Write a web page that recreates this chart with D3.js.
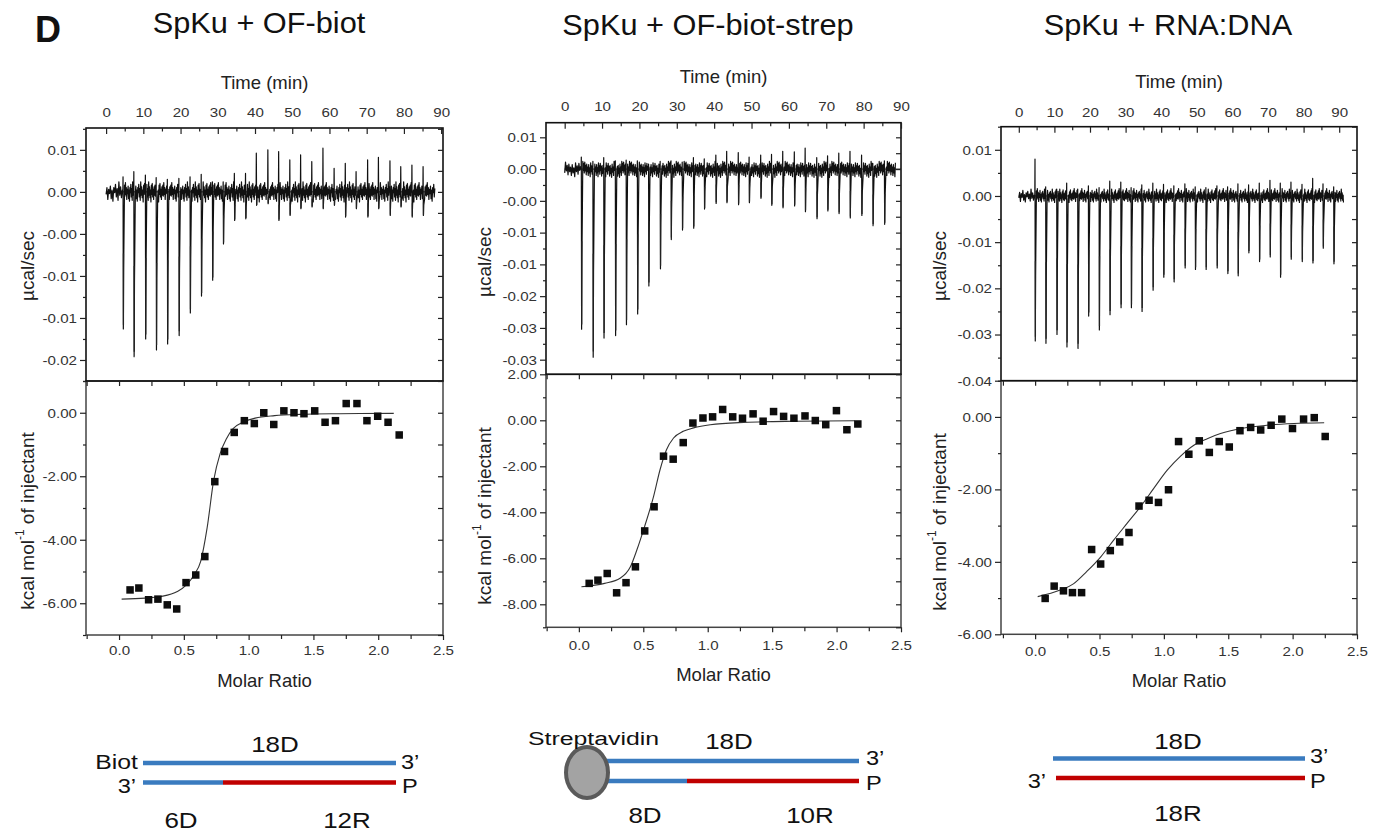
<!DOCTYPE html>
<html><head><meta charset="utf-8">
<script src="https://cdn.jsdelivr.net/npm/d3@7"></script>
<style>body{margin:0;background:#fff;} text{font-family:"Liberation Sans",Arial,Helvetica,sans-serif;}</style>
</head><body><script>
// ---------------- DATA ----------------
const titles = ["SpKu + OF-biot", "SpKu + OF-biot-strep", "SpKu + RNA:DNA"];
const timeTicks = [0,10,20,30,40,50,60,70,80,90];
const molarTicks = [0,0.5,1,1.5,2,2.5];
const molarTickLabels = ["0.0","0.5","1.0","1.5","2.0","2.5"];

const rawTicks1 = [0.005,0,-0.005,-0.01,-0.015,-0.02];
const rawLabels1 = ["0.01","0.00","-0.00","-0.01","-0.01","-0.02"];
const rawTicks2 = [0.005,0,-0.005,-0.01,-0.015,-0.02,-0.025,-0.03];
const rawLabels2 = ["0.01","0.00","-0.00","-0.01","-0.01","-0.02","-0.03","-0.03"];
const rawTicks3 = [0.01,0,-0.01,-0.02,-0.03,-0.04];
const rawLabels3 = ["0.01","0.00","-0.01","-0.02","-0.03","-0.04"];

const heatTicks1 = [0,-2,-4,-6];
const heatLabels1 = ["0.00","-2.00","-4.00","-6.00"];
const heatTicks2 = [2,0,-2,-4,-6,-8];
const heatLabels2 = ["2.00","0.00","-2.00","-4.00","-6.00","-8.00"];
const heatTicks3 = [0,-2,-4,-6];
const heatLabels3 = ["0.00","-2.00","-4.00","-6.00"];

// raw thermograms: injection time (min), spike minimum and maximum (ucal/sec)
const injTime1 = [4.5,7.4,10.5,13.4,16.4,19.5,22.5,25.5,28.5,31.4,34.4,37.4,40.3,43.4,46.3,49.3,52.2,55.2,58.2,61.2,64.2,67.1,70.2,73.1,76.2,79.1,82.1,85.1];
const injMin1 = [-0.0163,-0.0196,-0.0175,-0.0188,-0.0181,-0.0171,-0.0144,-0.0124,-0.0105,-0.0062,-0.0034,-0.0032,-0.0016,-0.0014,-0.0034,-0.0028,-0.0020,-0.0018,-0.0020,-0.0016,-0.0030,-0.0020,-0.0030,-0.0020,-0.0028,-0.0018,-0.0030,-0.0028];
const injMax1 = [0.0018,0.0024,0.0020,0.0017,0.0015,0.0016,0.0018,0.0021,0.0012,0.0012,0.0022,0.0022,0.0046,0.0050,0.0048,0.0038,0.0044,0.0036,0.0052,0.0028,0.0034,0.0024,0.0038,0.0041,0.0037,0.0030,0.0032,0.0030];
// baseline noise read as a recurring pattern (ucal/sec)
const noise1 = [0.0008,-0.0005,0.0011,-0.0003,0.0005,-0.0009,0.0003,-0.0002,0.0007,-0.0008,0.0002,-0.0011,0.0005,-0.0001,0.0009,-0.0006,0.0004,-0.0010,0.0012,-0.0004,0.0006,-0.0007,0.0002,-0.0012,0.0008,-0.0003,0.0010,-0.0006,0.0003,-0.0009,0.0006,-0.0004];
const traceSpan1 = [0, 88.3];

const injTime2 = [4.4,7.5,10.4,13.5,16.4,19.4,22.4,25.5,28.4,31.4,34.4,37.3,40.4,43.3,46.4,49.3,52.4,55.3,58.3,61.4,64.3,67.4,70.3,73.3,76.3,79.4,82.4,85.5];
const injMin2 = [-0.0252,-0.0296,-0.0266,-0.0262,-0.0245,-0.0228,-0.0184,-0.0157,-0.0111,-0.0096,-0.0093,-0.0063,-0.0054,-0.0053,-0.0056,-0.0053,-0.0046,-0.0057,-0.0061,-0.0058,-0.0067,-0.0078,-0.0066,-0.0070,-0.0077,-0.0073,-0.0089,-0.0087];
const injMax2 = [0.0019,0.0012,0.0018,0.0013,0.0014,0.0013,0.0008,0.0012,0.0013,0.0011,0.0018,0.0016,0.0022,0.0028,0.0026,0.0019,0.0022,0.0023,0.0028,0.0027,0.0033,0.0018,0.0021,0.0025,0.0028,0.0022,0.0009,0.0013];
const noise2 = [0.0012,-0.0002,0.0009,-0.0006,0.0011,-0.0003,0.0006,-0.0009,0.0008,-0.0004,0.0003,-0.0010,0.0007,-0.0006,0.0002,-0.0012,0.0010,-0.0004,0.0005,-0.0008,0.0009,-0.0002,0.0004,-0.0011,0.0006,-0.0007,0.0001,-0.0013,0.0008,-0.0005,0.0003,-0.0010];
const traceSpan2 = [0, 88.5];

const injTime3 = [4.5,7.5,10.6,13.4,16.5,19.5,22.5,25.5,28.6,31.5,34.5,37.6,40.6,43.5,46.6,49.5,52.5,55.6,58.6,61.5,64.5,67.5,70.5,73.4,76.4,79.5,82.5,85.4,88.4];
const injMin3 = [-0.0314,-0.0319,-0.0300,-0.0327,-0.0330,-0.0260,-0.0290,-0.0257,-0.0242,-0.0242,-0.0250,-0.0204,-0.0176,-0.0186,-0.0156,-0.0159,-0.0159,-0.0156,-0.0168,-0.0173,-0.0123,-0.0142,-0.0132,-0.0176,-0.0137,-0.0142,-0.0145,-0.0113,-0.0147];
const injMax3 = [0.0080,0.0020,0.0015,0.0028,0.0015,0.0022,0.0018,0.0032,0.0030,0.0018,0.0024,0.0028,0.0025,0.0022,0.0026,0.0020,0.0018,0.0022,0.0020,0.0026,0.0024,0.0028,0.0034,0.0028,0.0030,0.0025,0.0038,0.0026,0.0020];
const noise3 = [0.0011,-0.0007,0.0016,-0.0004,0.0008,-0.0012,0.0005,-0.0003,0.0012,-0.0009,0.0003,-0.0013,0.0007,-0.0002,0.0010,-0.0006,0.0004,-0.0011,0.0015,-0.0005,0.0007,-0.0009,0.0002,-0.0014,0.0009,-0.0004,0.0013,-0.0008,0.0004,-0.0010,0.0006,-0.0005];
const traceSpan3 = [0, 91.2];

// integrated heats
const molar1 = [0.085,0.153,0.228,0.30,0.372,0.445,0.517,0.592,0.662,0.739,0.814,0.889,0.967,1.044,1.117,1.194,1.272,1.35,1.427,1.51,1.59,1.67,1.753,1.836,1.913,1.996,2.076,2.162];
const heat1 = [-5.58,-5.52,-5.89,-5.87,-6.05,-6.18,-5.35,-5.11,-4.53,-2.17,-1.22,-0.62,-0.25,-0.34,0.0,-0.37,0.06,0.0,-0.03,0.06,-0.30,-0.25,0.29,0.29,-0.25,-0.11,-0.30,-0.70];
const fitX1 = [0.02,0.2,0.32,0.45,0.52,0.58,0.63,0.68,0.73,0.78,0.83,0.88,0.96,1.05,1.2,1.4,1.7,2.12];
const fitY1 = [-5.87,-5.84,-5.79,-5.63,-5.42,-5.1,-4.68,-3.62,-2.14,-1.29,-0.81,-0.5,-0.29,-0.17,-0.09,-0.05,-0.03,-0.02];

const molar2 = [0.08,0.148,0.22,0.293,0.366,0.439,0.511,0.584,0.657,0.732,0.81,0.885,0.963,1.038,1.116,1.194,1.27,1.352,1.43,1.511,1.589,1.669,1.755,1.835,1.916,1.999,2.08,2.165];
const heat2 = [-7.09,-6.95,-6.66,-7.50,-7.06,-6.37,-4.81,-3.76,-1.56,-1.69,-0.97,-0.12,0.10,0.15,0.47,0.15,0.09,0.28,-0.04,0.38,0.17,0.09,0.19,-0.01,-0.19,0.42,-0.41,-0.16];
const fitX2 = [0.02,0.2,0.32,0.4,0.45,0.51,0.58,0.63,0.68,0.735,0.81,0.89,1.02,1.28,1.68,2.14];
const fitY2 = [-7.24,-7.09,-6.87,-6.37,-5.64,-4.62,-3.31,-2.15,-1.28,-0.77,-0.48,-0.33,-0.19,-0.09,-0.04,-0.02];

const molar3 = [0.078,0.148,0.22,0.29,0.361,0.439,0.509,0.584,0.657,0.729,0.807,0.885,0.958,1.036,1.114,1.194,1.275,1.353,1.43,1.508,1.591,1.674,1.752,1.833,1.916,1.999,2.085,2.168,2.253];
const heat3 = [-5.01,-4.67,-4.80,-4.85,-4.85,-3.66,-4.06,-3.69,-3.45,-3.19,-2.46,-2.30,-2.36,-2.01,-0.68,-1.03,-0.66,-0.98,-0.68,-0.83,-0.38,-0.29,-0.36,-0.23,-0.06,-0.32,-0.06,-0.02,-0.54];
const fitX3 = [0.02,0.195,0.3,0.4,0.51,0.61,0.714,0.818,0.92,1.026,1.13,1.233,1.337,1.44,1.6,1.8,2.01,2.245];
const fitY3 = [-4.96,-4.78,-4.6,-4.27,-3.86,-3.40,-2.94,-2.48,-1.98,-1.47,-1.08,-0.78,-0.60,-0.46,-0.32,-0.23,-0.18,-0.16];

// diagram labels
const diagTop = ["18D","18D","18D"];
const diagSegLeft = ["6D","8D",""];
const diagSegRight = ["12R","10R",""];
const diagBelow = ["","","18R"];

// ---------------- LAYOUT ----------------
const W = 1381, H = 832;
const BLUE = "#3a7bbf", RED = "#c00000";
const svg = d3.select("body").append("svg").attr("width", W).attr("height", H);
svg.append("rect").attr("width", W).attr("height", H).attr("fill", "#fff");

const panels = [
  { title: titles[0], inj: [injTime1, injMin1, injMax1], noise: noise1, span: traceSpan1,
    rawT: rawTicks1, rawL: rawLabels1, heatT: heatTicks1, heatL: heatLabels1,
    mol: molar1, heat: heat1, fx: fitX1, fy: fitY1,
    left: 86, right: 443, top: 128, mid: 381, bottom: 635,
    timeDom: [-5.4, 90.5], rawDom: [-0.0225, 0.0076], heatDom: [-7, 1], molDom: [-0.255, 2.5],
    tcx: 259, tby: 33, timeTitleY: 89, timePad: 11, molPad: 7.8, molTitleY: 687,
    yTitleX: 27, rawTitleY: 266, heatTitleY: 521 },
  { title: titles[1], inj: [injTime2, injMin2, injMax2], noise: noise2, span: traceSpan2,
    rawT: rawTicks2, rawL: rawLabels2, heatT: heatTicks2, heatL: heatLabels2,
    mol: molar2, heat: heat2, fx: fitX2, fy: fitY2,
    left: 546, right: 901, top: 122.7, mid: 374.3, bottom: 627.3,
    timeDom: [-5, 90], rawDom: [-0.0323, 0.0073], heatDom: [-9, 2], molDom: [-0.255, 2.5],
    tcx: 708, tby: 35, timeTitleY: 83, timePad: 11.7, molPad: 10.5, molTitleY: 681,
    yTitleX: 484, rawTitleY: 262, heatTitleY: 516 },
  { title: titles[2], inj: [injTime3, injMin3, injMax3], noise: noise3, span: traceSpan3,
    rawT: rawTicks3, rawL: rawLabels3, heatT: heatTicks3, heatL: heatLabels3,
    mol: molar3, heat: heat3, fx: fitX3, fy: fitY3,
    left: 1001, right: 1357, top: 126.7, mid: 380.7, bottom: 634.3,
    timeDom: [-5, 95], rawDom: [-0.04, 0.015], heatDom: [-6, 1], molDom: [-0.265, 2.5],
    tcx: 1168, tby: 35, timeTitleY: 88, timePad: 10, molPad: 9.5, molTitleY: 687,
    yTitleX: 939, rawTitleY: 266, heatTitleY: 522 }
];

function minors(dom, step, majors) {
  const lo = Math.min(dom[0], dom[1]), hi = Math.max(dom[0], dom[1]);
  const out = [];
  for (let k = Math.ceil(lo / step - 1e-9); k * step <= hi + 1e-9; k++) {
    const v = +(k * step).toFixed(6);
    if (!majors.some(m => Math.abs(m - v) < step * 1e-3)) out.push(v);
  }
  return out;
}
function stretch(sel, sx) {
  sel.each(function () {
    const t = d3.select(this);
    const x = +t.attr("x") || 0;
    t.attr("transform", `translate(${x},0) scale(${sx},1) translate(${-x},0)`);
  });
}
function styleAxis(g, size) {
  g.select(".domain").remove();
  g.selectAll(".tick line").attr("stroke", "#222").attr("stroke-width", 1.2);
  g.selectAll(".tick text").attr("fill", "#333").attr("font-size", size || 13)
    .attr("font-family", '"Liberation Sans", Arial, sans-serif');
}

// Panel letter
svg.append("text").attr("x", 35).attr("y", 42).attr("font-size", 36).attr("font-weight", "bold")
  .attr("fill", "#111").text("D");

panels.forEach((p, pi) => {
  const g = svg.append("g");
  const xT = d3.scaleLinear().domain(p.timeDom).range([p.left, p.right]);
  const yR = d3.scaleLinear().domain(p.rawDom).range([p.mid, p.top]);
  const xM = d3.scaleLinear().domain(p.molDom).range([p.left, p.right]);
  const yH = d3.scaleLinear().domain(p.heatDom).range([p.bottom, p.mid]);

  // title
  g.append("text").attr("x", p.tcx).attr("y", p.tby).attr("text-anchor", "middle")
    .attr("font-size", 29).attr("fill", "#111").text(p.title)
    .call(s => stretch(s, 1.06));

  const cid = "clipRaw" + pi;
  svg.append("clipPath").attr("id", cid).append("rect")
    .attr("x", p.left).attr("y", p.top).attr("width", p.right - p.left).attr("height", p.mid - p.top);

  // ---- raw thermogram ----
  const [times, mins, maxs] = p.inj;
  const nz = p.noise, N = nz.length, PER = 20;
  const pts = [];
  const addNoise = (a, b, off) => {
    for (let k = 0; k < PER; k++) pts.push([a + (b - a) * k / (PER - 1), nz[(off + k) % N]]);
  };
  addNoise(p.span[0], times[0] - 0.15, 3);
  times.forEach((t, i) => {
    pts.push([t, 0]); pts.push([t + 0.05, maxs[i]]); pts.push([t + 0.13, mins[i]]);
    pts.push([t + 0.22, mins[i] * 0.55]);
    const next = i < times.length - 1 ? times[i + 1] - 0.15 : p.span[1];
    addNoise(t + 0.45, next, (i * 7) % N);
  });
  const rawG = g.append("g").attr("clip-path", `url(#${cid})`);
  rawG.append("line").attr("x1", xT(p.span[0])).attr("x2", pi === 1 ? p.right : xT(p.span[1]))
    .attr("y1", yR(0)).attr("y2", yR(0)).attr("stroke", "#111").attr("stroke-width", 1);
  rawG.append("path").datum(pts)
    .attr("d", d3.line().x(d => xT(d[0])).y(d => yR(d[1])))
    .attr("fill", "none").attr("stroke", "#111").attr("stroke-width", 1.2).attr("stroke-linejoin", "round");
  rawG.selectAll(null).data(times).enter().append("line")
    .attr("x1", d => xT(d) + 0.6).attr("x2", d => xT(d) + 0.6)
    .attr("y1", (d, i) => yR(mins[i] * 0.45)).attr("y2", (d, i) => yR(mins[i] * 0.97))
    .attr("stroke", "#222").attr("stroke-width", 1.2);

  // ---- integrated heat ----
  const line = d3.line().x((d, i) => xM(p.fx[i])).y((d, i) => yH(p.fy[i])).curve(d3.curveMonotoneX);
  g.append("path").datum(p.fx).attr("d", line).attr("fill", "none")
    .attr("stroke", "#333").attr("stroke-width", 1.1);
  const sq = 7.5;
  g.selectAll(null).data(p.mol).enter().append("rect")
    .attr("x", (d) => xM(d) - sq / 2).attr("y", (d, i) => yH(p.heat[i]) - sq / 2)
    .attr("width", sq).attr("height", sq).attr("fill", "#0d0d0d");

  // ---- frames ----
  g.append("rect").attr("x", p.left).attr("y", p.mid).attr("width", p.right - p.left)
    .attr("height", p.bottom - p.mid).attr("fill", "none").attr("stroke", "#444").attr("stroke-width", 1.5);
  g.append("rect").attr("x", p.left).attr("y", p.top).attr("width", p.right - p.left)
    .attr("height", p.mid - p.top).attr("fill", "none").attr("stroke", "#111").attr("stroke-width", 1.6);

  // ---- axes: time (top) ----
  const tMin = minors(p.timeDom, 5, timeTicks).filter(v => v >= 0 && v <= 90);
  g.append("g").attr("transform", `translate(0,${p.top})`)
    .call(d3.axisTop(xT).tickValues(timeTicks).tickFormat(d => String(d)).tickSizeInner(-6).tickSizeOuter(0).tickPadding(p.timePad))
    .call(a => styleAxis(a, 13.5)).call(a => stretch(a.selectAll("text"), 1.12));
  g.append("g").attr("transform", `translate(0,${p.top})`)
    .call(d3.axisTop(xT).tickValues(tMin).tickFormat("").tickSizeInner(-3.5).tickSizeOuter(0))
    .call(a => styleAxis(a));
  g.append("text").attr("x", (p.left + p.right) / 2).attr("y", p.timeTitleY).attr("text-anchor", "middle")
    .attr("font-size", 18.5).attr("fill", "#222").text("Time (min)");

  // raw y axes
  const rStep = Math.abs(p.rawT[0] - p.rawT[1]);
  const rMin = minors(p.rawDom, rStep / 2, p.rawT);
  g.append("g").attr("transform", `translate(${p.left},0)`)
    .call(d3.axisLeft(yR).tickValues(p.rawT).tickFormat((d, i) => p.rawL[i]).tickSizeInner(6).tickSizeOuter(0).tickPadding(3))
    .call(a => styleAxis(a, 13.5)).call(a => stretch(a.selectAll("text"), 1.12));
  g.append("g").attr("transform", `translate(${p.left},0)`)
    .call(d3.axisLeft(yR).tickValues(rMin).tickFormat("").tickSizeInner(3).tickSizeOuter(0)).call(a => styleAxis(a));
  g.append("g").attr("transform", `translate(${p.right},0)`)
    .call(d3.axisLeft(yR).tickValues(p.rawT.concat(rMin).filter(v => v > p.rawDom[0] + 1e-6)).tickFormat("").tickSizeInner(5).tickSizeOuter(0)).call(a => styleAxis(a));

  // heat y axes
  const hMin = minors(p.heatDom, 1, p.heatT);
  g.append("g").attr("transform", `translate(${p.left},0)`)
    .call(d3.axisLeft(yH).tickValues(p.heatT).tickFormat((d, i) => p.heatL[i]).tickSizeInner(6).tickSizeOuter(0).tickPadding(3))
    .call(a => styleAxis(a, 13.5)).call(a => stretch(a.selectAll("text"), 1.12));
  g.append("g").attr("transform", `translate(${p.left},0)`)
    .call(d3.axisLeft(yH).tickValues(hMin).tickFormat("").tickSizeInner(3).tickSizeOuter(0)).call(a => styleAxis(a));
  g.append("g").attr("transform", `translate(${p.right},0)`)
    .call(d3.axisLeft(yH).tickValues(p.heatT.concat(hMin)).tickFormat("").tickSizeInner(5).tickSizeOuter(0)).call(a => styleAxis(a));

  // molar x axes
  const mMin = minors(p.molDom, 0.25, molarTicks);
  g.append("g").attr("transform", `translate(0,${p.bottom})`)
    .call(d3.axisBottom(xM).tickValues(molarTicks).tickFormat((d, i) => molarTickLabels[i]).tickSizeInner(5).tickSizeOuter(0).tickPadding(p.molPad - 2))
    .call(a => styleAxis(a, 13.5)).call(a => stretch(a.selectAll("text"), 1.12));
  g.append("g").attr("transform", `translate(0,${p.bottom})`)
    .call(d3.axisBottom(xM).tickValues(mMin).tickFormat("").tickSizeInner(4).tickSizeOuter(0)).call(a => styleAxis(a));
  g.append("g").attr("transform", `translate(0,${p.mid})`)
    .call(d3.axisBottom(xM).tickValues(molarTicks.concat(mMin).filter(v => v < 2.49)).tickFormat("").tickSizeInner(5).tickSizeOuter(0)).call(a => styleAxis(a));
  g.append("text").attr("x", (p.left + p.right) / 2).attr("y", p.molTitleY).attr("text-anchor", "middle")
    .attr("font-size", 18.5).attr("fill", "#222").text("Molar Ratio");

  // y titles
  g.append("text").attr("transform", `translate(${p.yTitleX},${p.rawTitleY}) rotate(-90)`)
    .attr("text-anchor", "middle").attr("dominant-baseline", "central")
    .attr("font-size", 19).attr("fill", "#222").text("\u00b5cal/sec");
  const kt = g.append("text").attr("transform", `translate(${p.yTitleX},${p.heatTitleY}) rotate(-90)`)
    .attr("text-anchor", "middle").attr("dominant-baseline", "central")
    .attr("font-size", 19).attr("fill", "#222");
  kt.append("tspan").text("kcal mol");
  kt.append("tspan").attr("font-size", 12).attr("dy", -7).text("-1");
  kt.append("tspan").attr("dy", 7).text(" of injectant");
});

// ---------------- DIAGRAMS ----------------
const dg = svg.append("g");
function strand(x1, x2, y, c) {
  dg.append("line").attr("x1", x1).attr("x2", x2).attr("y1", y).attr("y2", y)
    .attr("stroke", c).attr("stroke-width", 4.5);
}
function label(x, y, s, anchor, size, sx) {
  dg.append("text").attr("x", x).attr("y", y).attr("text-anchor", anchor || "middle")
    .attr("font-size", size || 22).attr("fill", "#111").text(s)
    .call(t => stretch(t, sx || 1.18));
}
// diagram 1
strand(143, 396, 763, BLUE);
strand(143, 223, 782.5, BLUE);
strand(223, 396, 782.5, RED);
label(138, 769, "Biot", "end", 21);
label(401, 769, "3\u2019", "start", 20);
label(136, 793, "3\u2019", "end", 20);
label(402, 793, "P", "start", 20);
label(275, 752, diagTop[0]);
label(181, 828, diagSegLeft[0]);
label(347, 828, diagSegRight[0]);

// diagram 2
strand(605, 859, 761, BLUE);
strand(605, 687, 781, BLUE);
strand(687, 859, 781, RED);
dg.append("ellipse").attr("cx", 587).attr("cy", 772.5).attr("rx", 21).attr("ry", 25.5)
  .attr("fill", "#a3a3a3").attr("stroke", "#5a5a5a").attr("stroke-width", 4);
label(528, 745, "Streptavidin", "start", 18, 1.38);
label(866, 765, "3\u2019", "start", 20);
label(866, 790, "P", "start", 20);
label(729, 749, diagTop[1]);
label(645, 823, diagSegLeft[1]);
label(810, 823, diagSegRight[1]);

// diagram 3
strand(1053, 1305, 758.5, BLUE);
strand(1056, 1305, 778, RED);
label(1310, 763, "3\u2019", "start", 20);
label(1310, 788, "P", "start", 20);
label(1046, 788, "3\u2019", "end", 20);
label(1178, 749, diagTop[2]);
label(1178, 821, diagBelow[2]);
</script></body></html>
